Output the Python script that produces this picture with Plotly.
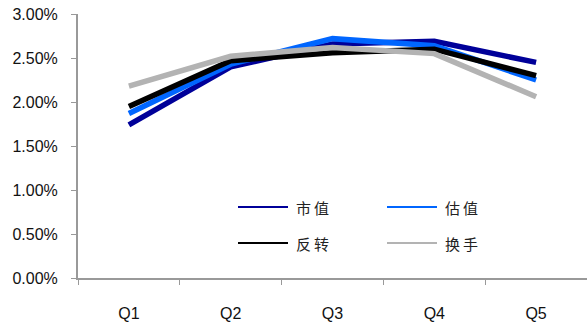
import plotly.graph_objects as go

# Quintile groups and average returns per factor
quintiles = ["Q1", "Q2", "Q3", "Q4", "Q5"]
names = ["市值", "估值", "反转", "换手"]
size_vals = [0.0174, 0.0240, 0.0266, 0.0269, 0.0245]
value_vals = [0.0187, 0.0243, 0.0272, 0.0264, 0.0225]
reversal_vals = [0.0195, 0.0247, 0.0256, 0.0260, 0.0230]
turnover_vals = [0.0218, 0.0252, 0.0262, 0.0255, 0.0206]
y_ticks = [0.0, 0.005, 0.01, 0.015, 0.02, 0.025, 0.03]

series = [size_vals, value_vals, reversal_vals, turnover_vals]
colors = ["#000099", "#0066FF", "#000000", "#B3B3B3"]

W, H = 587, 327
L, R, T, B = 78, 0, 14, 49
pw, ph = W - L - R, H - T - B

fig = go.Figure()
for nm, vals, c in zip(names, series, colors):
    fig.add_trace(go.Scatter(x=quintiles, y=vals, mode="lines", name=nm,
                             line=dict(color=c, width=5.5), showlegend=False))

# Two-column legend drawn in paper coordinates
def px_x(p):
    return (p - L) / pw

def px_y(p):
    return (H - B - p) / ph

legend_pos = [(238, 207), (387, 207), (238, 243), (387, 243)]
for nm, c, (lx, ly) in zip(names, colors, legend_pos):
    fig.add_shape(type="line", xref="paper", yref="paper",
                  x0=px_x(lx), x1=px_x(lx + 50), y0=px_y(ly), y1=px_y(ly),
                  line=dict(color=c, width=2))
    fig.add_annotation(xref="paper", yref="paper", x=px_x(lx + 56), y=px_y(ly),
                       text="\u2009".join(nm), showarrow=False,
                       xanchor="left", yanchor="middle",
                       font=dict(family="Noto Sans CJK SC", size=15, color="#222"))

fig.update_layout(
    width=W, height=H,
    margin=dict(l=L, r=R, t=T, b=B),
    paper_bgcolor="white", plot_bgcolor="white",
    font=dict(family="Liberation Sans, Arial", size=16, color="#111"),
    showlegend=False,
)
fig.update_xaxes(
    range=[-0.5, 4.5], tickson="boundaries", ticks="outside", ticklen=5,
    tickcolor="#999", showline=True, linecolor="#999", linewidth=2,
    showgrid=False, zeroline=False, ticklabelstandoff=20,
)
fig.update_yaxes(
    range=[0, 0.03], tickvals=y_ticks, tickformat=".2%", ticks="outside",
    ticklen=5, tickcolor="#999", showline=True, linecolor="#999", linewidth=2,
    showgrid=False, zeroline=False, ticklabelstandoff=10,
)

fig.write_html("out.html")
